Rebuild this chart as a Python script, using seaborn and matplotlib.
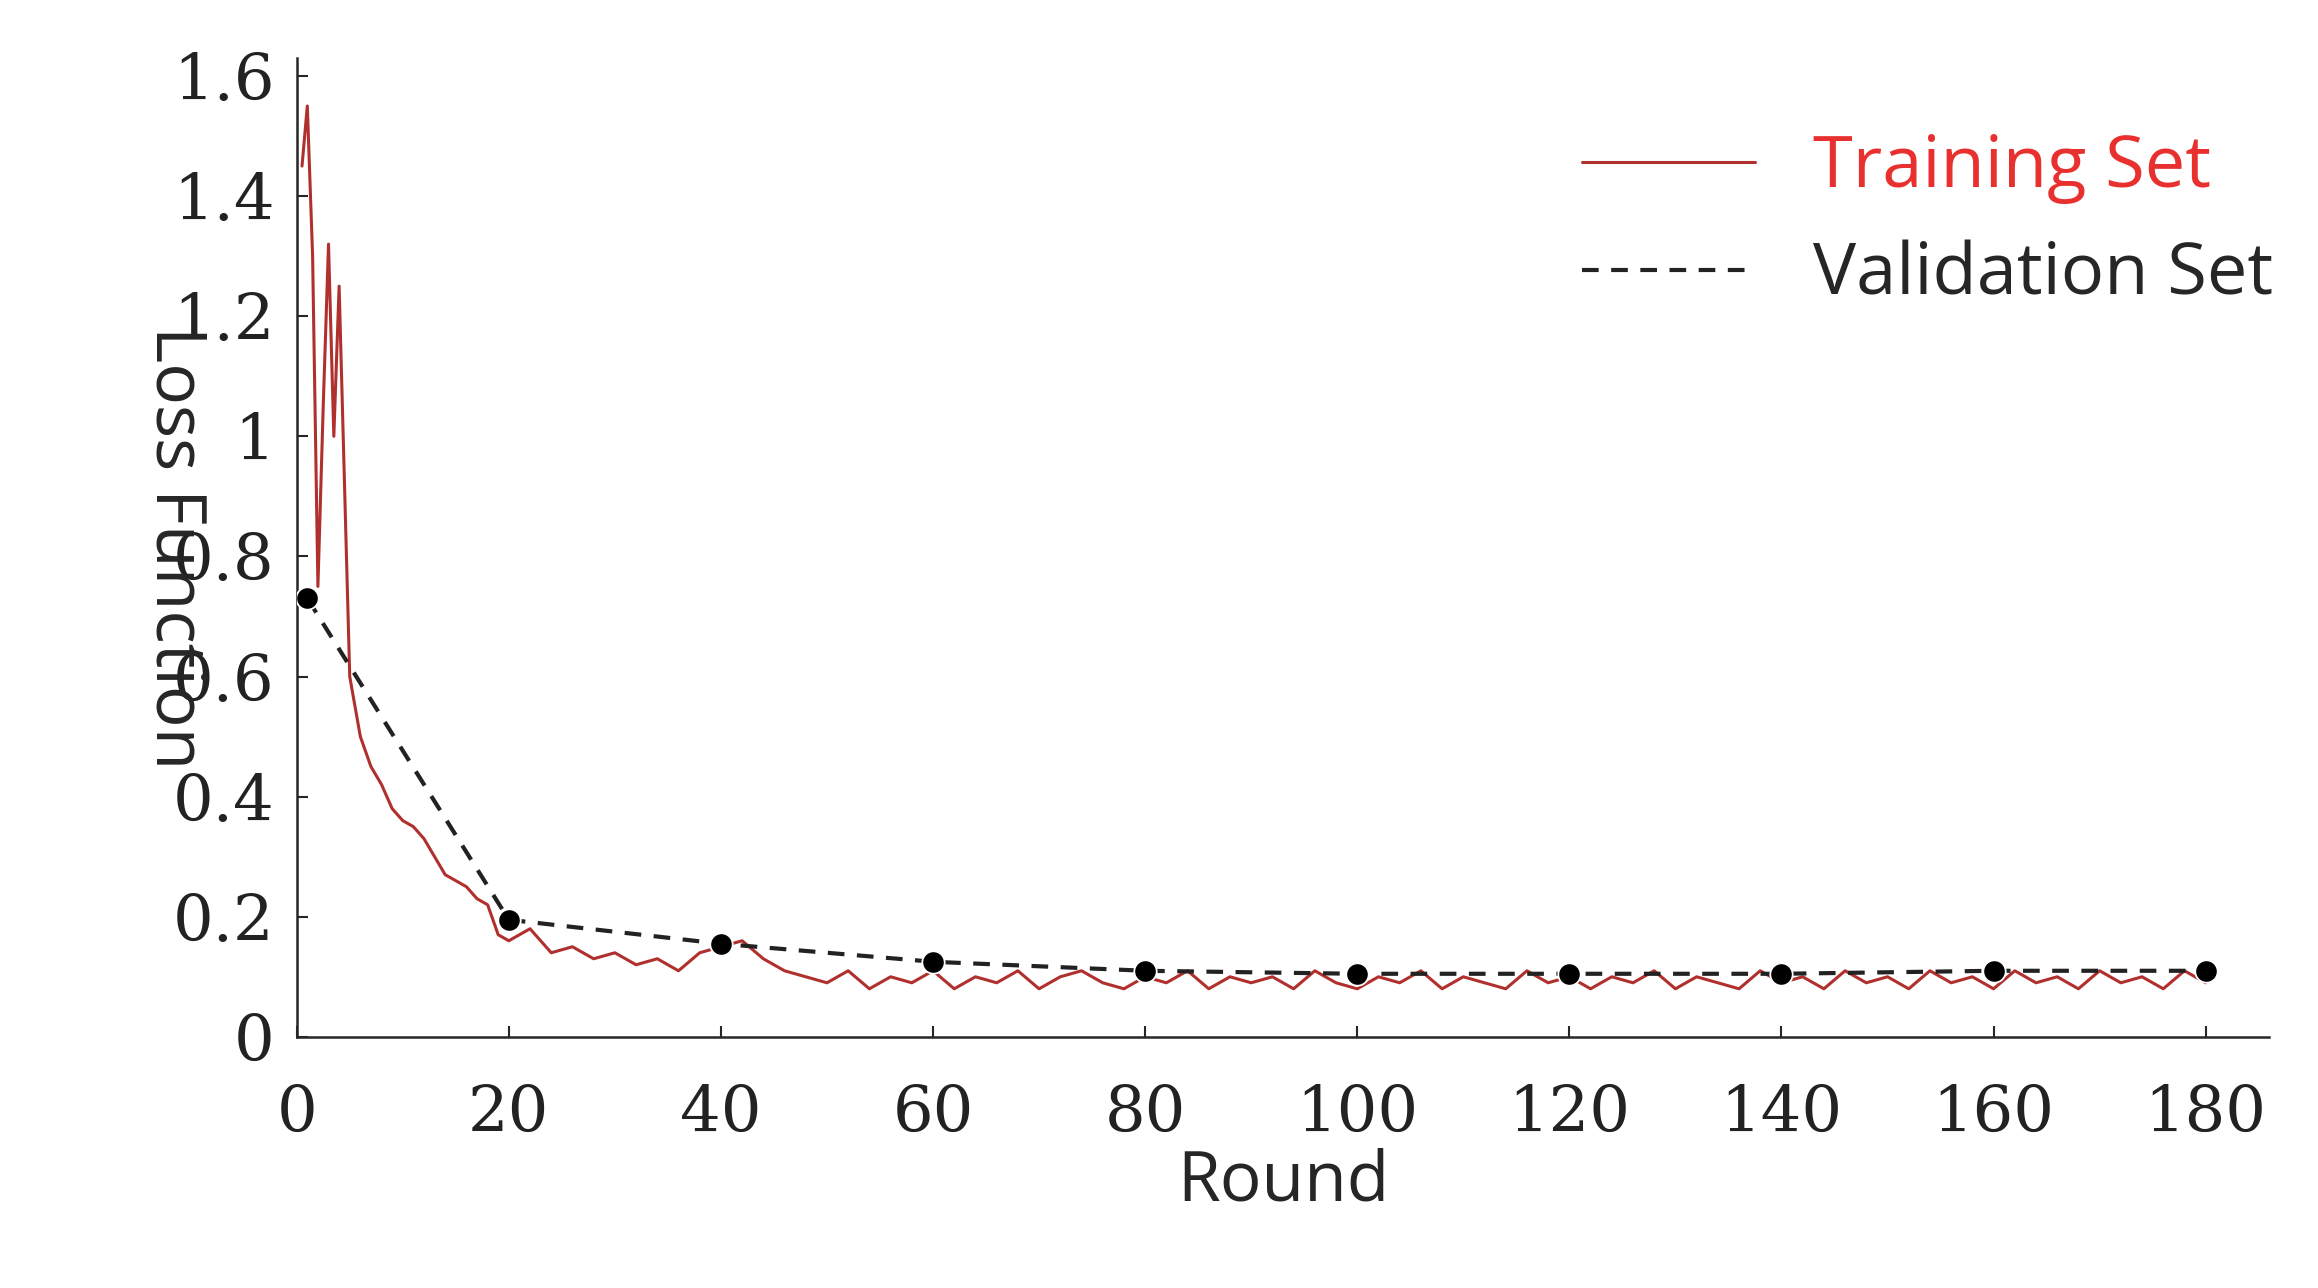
import matplotlib
matplotlib.use("Agg")
import matplotlib.pyplot as plt
import seaborn as sns
import pandas as pd

# ============================================
# DATA
# ============================================

train_rounds = [0.5, 1, 1.5, 2, 2.5, 3, 3.5, 4, 5, 6, 7, 8, 9, 10, 11, 12, 13, 14, 15, 16, 17, 18, 19,
                20, 22, 24, 26, 28, 30, 32, 34, 36, 38, 40, 42, 44, 46, 48, 50, 52, 54, 56, 58,
                60, 62, 64, 66, 68, 70, 72, 74, 76, 78, 80, 82, 84, 86, 88, 90, 92, 94, 96, 98,
                100, 102, 104, 106, 108, 110, 112, 114, 116, 118, 120, 122, 124, 126, 128, 130,
                132, 134, 136, 138, 140, 142, 144, 146, 148, 150, 152, 154, 156, 158, 160, 162,
                164, 166, 168, 170, 172, 174, 176, 178, 180]
train_loss = [1.45, 1.55, 1.30, 0.75, 1.05, 1.32, 1.00, 1.25, 0.60, 0.50, 0.45, 0.42, 0.38, 0.36, 0.35, 0.33,
              0.30, 0.27, 0.26, 0.25, 0.23, 0.22, 0.17,
              0.16, 0.18, 0.14, 0.15, 0.13, 0.14, 0.12, 0.13, 0.11, 0.14, 0.15, 0.16, 0.13, 0.11,
              0.10, 0.09, 0.11, 0.08, 0.10, 0.09,
              0.11, 0.08, 0.10, 0.09, 0.11, 0.08, 0.10, 0.11, 0.09, 0.08, 0.10, 0.09, 0.11, 0.08,
              0.10, 0.09, 0.10, 0.08, 0.11, 0.09,
              0.08, 0.10, 0.09, 0.11, 0.08, 0.10, 0.09, 0.08, 0.11, 0.09, 0.10, 0.08, 0.10, 0.09,
              0.11, 0.08,
              0.10, 0.09, 0.08, 0.11, 0.09, 0.10, 0.08, 0.11, 0.09, 0.10, 0.08, 0.11, 0.09, 0.10,
              0.08, 0.11,
              0.09, 0.10, 0.08, 0.11, 0.09, 0.10, 0.08, 0.11, 0.09]

val_rounds = [1, 20, 40, 60, 80, 100, 120, 140, 160, 180]
val_loss = [0.73, 0.195, 0.155, 0.125, 0.11, 0.105, 0.105, 0.105, 0.11, 0.11]

x_ticks = [0, 20, 40, 60, 80, 100, 120, 140, 160, 180]
y_ticks = [0, 0.2, 0.4, 0.6, 0.8, 1.0, 1.2, 1.4, 1.6]
y_labels = ["0", "0.2", "0.4", "0.6", "0.8", "1", "1.2", "1.4", "1.6"]

train_df = pd.DataFrame({"Round": train_rounds, "Loss": train_loss})
val_df = pd.DataFrame({"Round": val_rounds, "Loss": val_loss})

# ============================================
# PLOT
# ============================================

sns.set_style("ticks")
fig = plt.figure(figsize=(23.18, 12.88), dpi=100)
ax = fig.add_axes([0.128, 0.195, 0.851, 0.76])

sns.lineplot(data=train_df, x="Round", y="Loss", ax=ax, color="#b0302e", lw=2.2,
             label="Training Set")
sns.lineplot(data=val_df, x="Round", y="Loss", ax=ax, color="#222222", lw=3,
             linestyle=(0, (4, 3)), label="Validation Set")
sns.scatterplot(data=val_df, x="Round", y="Loss", ax=ax, color="black", s=260,
                zorder=5, legend=False)

ax.set_xlim(0, 186)
ax.set_ylim(0, 1.63)
ax.set_xticks(x_ticks)
ax.set_yticks(y_ticks)
ax.set_yticklabels(y_labels)
for lab in ax.get_xticklabels() + ax.get_yticklabels():
    lab.set_family("DejaVu Serif")
    lab.set_fontsize(46)
    lab.set_color("#222222")
ax.tick_params(direction="in", length=8, width=1.5)
ax.tick_params(axis="x", pad=34)
ax.tick_params(axis="y", pad=16)
ax.set_xlabel("Round", fontsize=50, family="Open Sans", labelpad=2)
ax.set_ylabel("Loss Function", fontsize=50, family="Open Sans", labelpad=24,
              rotation=270, va="bottom")
sns.despine(ax=ax)
for s in ["left", "bottom"]:
    ax.spines[s].set_linewidth(1.8)

leg = ax.legend(loc="upper right", frameon=False, prop={"family": "Open Sans", "size": 52},
                handlelength=2.4, bbox_to_anchor=(1.035, 0.99))
leg.get_texts()[0].set_color("#e8312f")

fig.savefig("out.png", dpi=100)
